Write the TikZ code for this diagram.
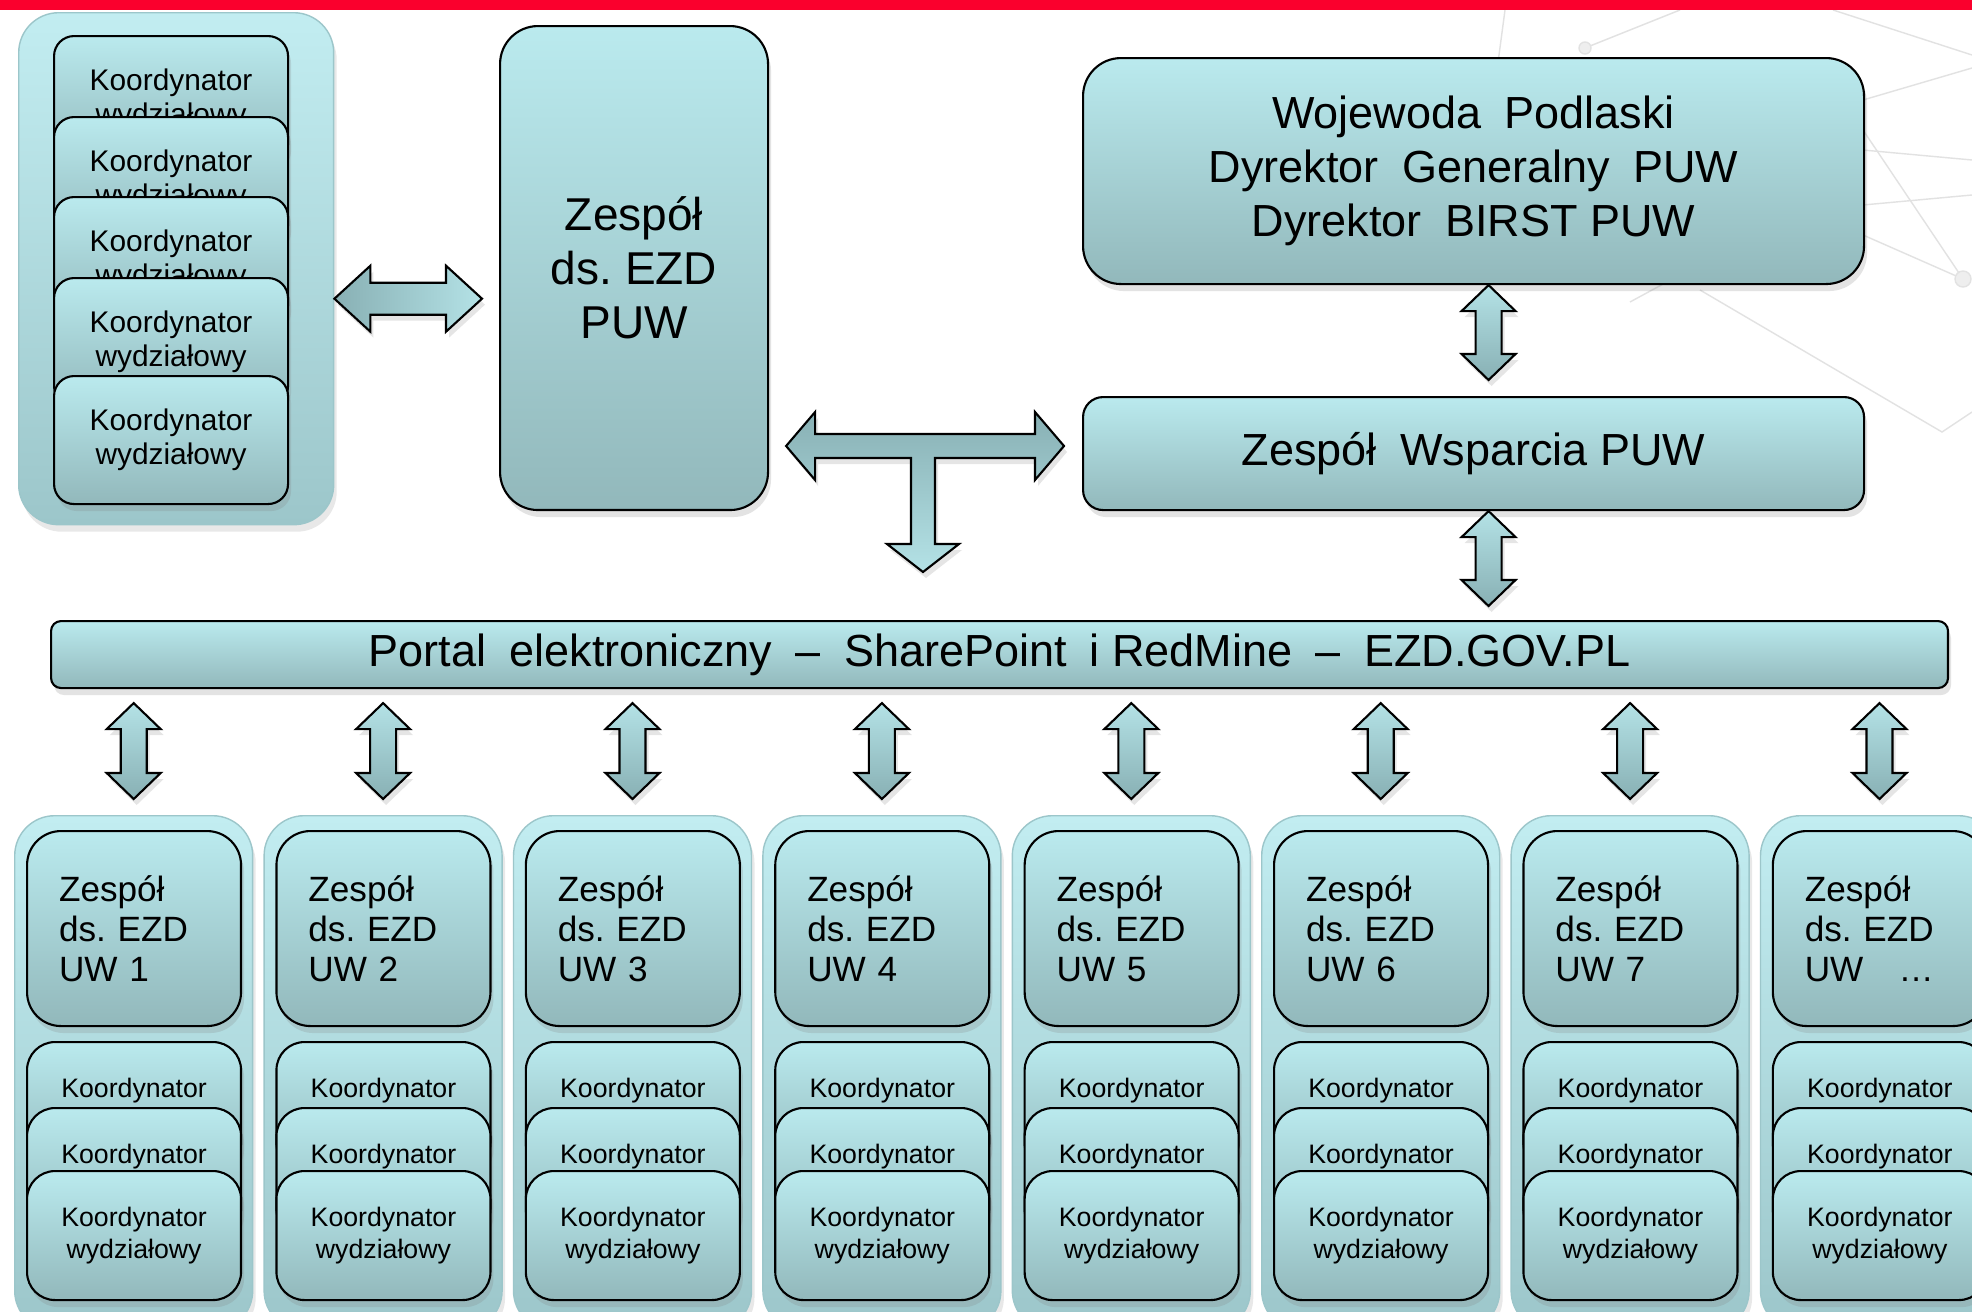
\documentclass[tikz,border=0pt]{standalone}
\usepackage{fontspec}
\setmainfont{Liberation Sans}
\usepackage{xcolor}
\usetikzlibrary{calc,shadows}
\frenchspacing

\definecolor{boxtop}{RGB}{186,234,238}
\definecolor{boxbot}{RGB}{146,184,187}
\definecolor{grptop}{RGB}{194,237,241}
\definecolor{grpbot}{RGB}{156,198,202}
\definecolor{arrlight}{RGB}{180,226,230}
\definecolor{arrdark}{RGB}{136,176,180}
\definecolor{barred}{RGB}{250,0,45}
\definecolor{netgray}{RGB}{226,226,226}

\newcommand{\wsp}{\hspace{.52em}}

\tikzset{
	box/.style={draw=black, line width=0.6pt, top color=boxtop, bottom color=boxbot, rounded corners=3.6mm, anchor=north west, inner sep=0pt, align=center, drop shadow={shadow xshift=0.3mm, shadow yshift=-0.7mm, opacity=0.22}},
	grp/.style={draw=grpbot, line width=0.4pt, top color=grptop, bottom color=grpbot, rounded corners=4mm, anchor=north west, inner sep=0pt, drop shadow={shadow xshift=0.3mm, shadow yshift=-0.7mm, opacity=0.18}},
	fatarrow/.style={draw=black, line width=0.6pt, top color=arrlight, bottom color=arrdark, drop shadow={shadow xshift=0.3mm, shadow yshift=-0.6mm, opacity=0.2}},
	bigtext/.style={font=\fontsize{12.8}{15.4}\selectfont},
	kboxleft/.style={minimum width=23.4mm, minimum height=12.8mm, rounded corners=2mm, font=\fontsize{8.5}{9.7}\selectfont},
	kboxuw/.style={minimum width=21.4mm, minimum height=12.9mm, rounded corners=2.8mm, font=\fontsize{7.6}{8.9}\selectfont},
	zboxuw/.style={minimum height=19.5mm, text width=15mm, inner xsep=3.2mm, align=left, rounded corners=3.4mm, font=\fontsize{10}{11.4}\selectfont}
}

\newcommand{\hdarrow}[5]{%
	\path[fatarrow, left color=arrdark, right color=arrlight] (#1) -- ++(#5,-#3) -- ++(0,#3-#4) -- ($(#2)+(-#5,-#4)$) -- ++(0,#4-#3) -- (#2) -- ++(-#5,#3) -- ++(0,#4-#3) -- ($(#1)+(#5,#4)$) -- ++(0,#3-#4) -- cycle;
}
\newcommand{\vdarrow}[5]{%
	\path[fatarrow] (#1) -- ++(#3,#5) -- ++(#4-#3,0) -- ($(#2)+(#4,-#5)$) -- ++(#3-#4,0) -- (#2) -- ++(-#3,-#5) -- ++(#3-#4,0) -- ($(#1)+(-#4,#5)$) -- ++(#4-#3,0) -- cycle;
}

\begin{document}
\begin{tikzpicture}[x=0.1mm, y=-0.1mm]
		\useasboundingbox (0,0) rectangle (1972,1312);
		\clip (0,0) rectangle (1972,1312);
		\fill[white] (0,0) rectangle (1972,1312);
		\begin{scope}[draw=netgray, line width=0.4pt]
			\draw (1505,10) -- (1497,70);
			\draw (1585,48) -- (1680,10);
			\draw (1833,10) -- (1972,55);
			\draw (1863,100) -- (1972,68);
			\draw (1863,150) -- (1972,160);
			\draw (1863,205) -- (1972,195);
			\draw (1863,235) -- (1963,279);
			\draw (1863,130) -- (1963,279);
			\draw (1700,290) -- (1942,432) -- (1972,412);
			\draw (1630,302) -- (1665,283);
			\draw[fill=netgray!60] (1585,48) circle (6);
			\draw[fill=netgray!60] (1963,279) circle (8);
		\end{scope}
		\fill[barred] (0,0) rectangle (1972,10);

		\node[grp, minimum width=31.5mm, minimum height=51.2mm] (lgrp) at (18,12) {};
		\foreach \k/\ty in {1/35,2/116,3/196,4/277,5/375}
			\node[box, kboxleft] (lk\k) at (53,\ty) {Koordynator\\wydziałowy};
		\node[box, minimum width=26.8mm, minimum height=48.4mm, rounded corners=3.8mm, font=\fontsize{13.1}{15.4}\selectfont] (puw) at (499,25) {Zespół\\ds. EZD\\PUW};
		\node[box, minimum width=78.1mm, minimum height=22.6mm, rounded corners=3.8mm, bigtext] (woj) at (1082,57) {Wojewoda\wsp Podlaski\\Dyrektor\wsp Generalny\wsp PUW\\Dyrektor\wsp BIRST PUW};
		\node[box, minimum width=78.1mm, minimum height=11.3mm, rounded corners=2mm, bigtext] (wsp) at (1082,396) {Zespół\wsp Wsparcia PUW};
		\node[box, minimum width=189.7mm, minimum height=6.7mm, rounded corners=1mm, bigtext] (portal) at (50,620) {Portal\wsp elektroniczny\wsp –\wsp SharePoint\wsp i RedMine\wsp –\wsp EZD.GOV.PL};

		\coordinate (ha) at ($(lgrp.east)+(0,30)$);
		\coordinate (hb) at ($(puw.west |- ha)+(-17,0)$);
		\hdarrow{ha}{hb}{33}{16}{36}
		\coordinate (a1t) at ($(woj.south)+(15,0)$);
		\coordinate (a1b) at ($(a1t |- wsp.north)+(0,-16)$);
		\vdarrow{a1t}{a1b}{27}{13}{26}
		\coordinate (a2t) at ($(wsp.south)+(15,0)$);
		\coordinate (a2b) at ($(a2t |- portal.north)+(0,-14)$);
		\vdarrow{a2t}{a2b}{27}{13}{26}

		\coordinate (tj) at (923,446);
		\coordinate (tl) at ($(puw.east |- tj)+(17,0)$);
		\coordinate (tr) at ($(wsp.west |- tj)+(-18,0)$);
		\coordinate (tb) at ($(tj |- portal.north)+(0,-48)$);
		\path[fatarrow, top color=arrdark, bottom color=arrlight] (tl) -- ++(29,-34) -- ++(0,22) -- ($(tr)+(-29,-12)$) -- ++(0,-22) -- (tr) -- ++(-29,34) -- ++(0,-22) -- ($(tj)+(12,12)$) -- ($(tb)+(12,-28)$) -- ++(24,0) -- (tb) -- ++(-36,-28) -- ++(24,0) -- ($(tj)+(-12,12)$) -- ($(tl)+(29,12)$) -- ++(0,22) -- cycle;

		\foreach \i/\lbl in {0/1,1/2,2/3,3/4,4/5,5/6,6/7,7/{\ \ …}} {
			\node[grp, minimum width=23.8mm, minimum height=51.5mm] (g\i) at ({133+249.4*\i-119},815) {};
			\node[box, zboxuw] (z\i) at ($(g\i.north west)+(12,15)$) {Zespół\\ds. EZD\\UW \lbl};
			\foreach \k/\dy in {a/226,b/292,c/355}
				\node[box, kboxuw] (k\i\k) at ($(g\i.north west)+(12,\dy)$) {Koordynator\\wydziałowy};
			\coordinate (bt\i) at ($(g\i.north |- portal.south)+(0,14)$);
			\coordinate (bb\i) at ($(g\i.north)+(0,-16)$);
			\vdarrow{bt\i}{bb\i}{27}{13}{26}
		}
	\end{tikzpicture}
\end{document}
